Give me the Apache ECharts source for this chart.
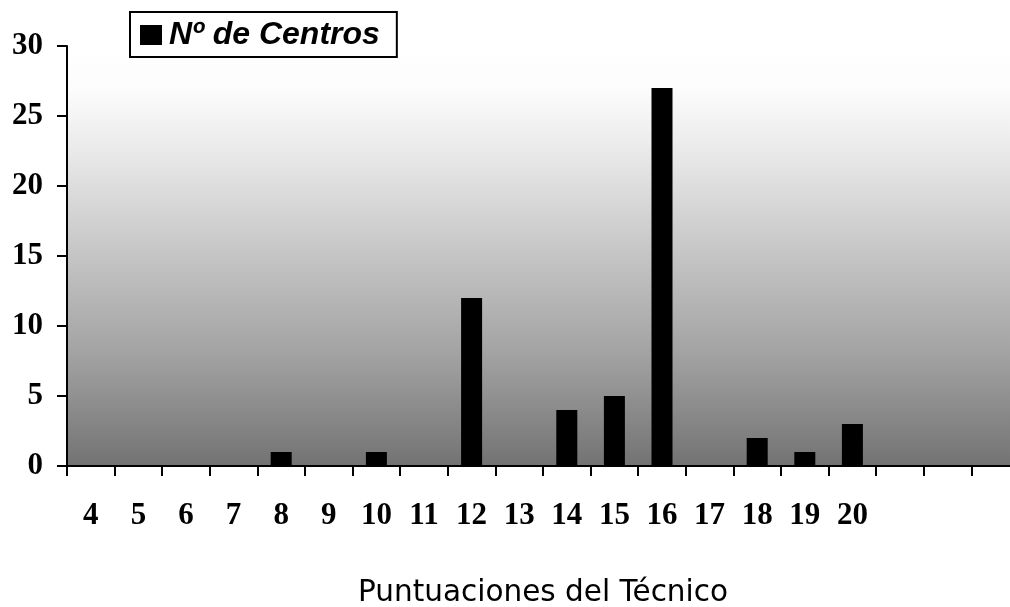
<!DOCTYPE html>
<html>
<head>
<meta charset="utf-8">
<script src="https://cdn.jsdelivr.net/npm/echarts@6/dist/echarts.min.js"></script>
<style>
  html, body { margin: 0; padding: 0; background: #ffffff; }
  #chart { width: 1010px; height: 607px; }
</style>
</head>
<body>
<div id="chart"></div>
<script>
// Puntuaciones del técnico (three trailing empty slots keep the axis running on)
const categories = ['4', '5', '6', '7', '8', '9', '10', '11', '12', '13', '14', '15', '16', '17', '18', '19', '20', '', '', ''];
// Número de centros por puntuación
const centros = [0, 0, 0, 0, 1, 0, 1, 0, 12, 0, 4, 5, 27, 0, 2, 1, 3, 0, 0, 0];
const yTicks = [0, 5, 10, 15, 20, 25, 30];
const seriesName = 'Nº de Centros';
const axisTitle = 'Puntuaciones del Técnico';

const chart = echarts.init(document.getElementById('chart'), null, { renderer: 'canvas' });

const serifBold = { fontFamily: 'Liberation Serif', fontWeight: 'bold', fontSize: 31, color: '#000' };

chart.setOption({
  animation: false,
  backgroundColor: '#ffffff',
  legend: {
    left: 130,
    top: 12,
    padding: [7, 17, 6, 10],
    backgroundColor: '#ffffff',
    borderColor: '#000',
    borderWidth: 2,
    borderRadius: 0,
    icon: 'rect',
    itemWidth: 22,
    itemHeight: 20,
    itemGap: 0,
    itemStyle: { borderWidth: 0 },
    textStyle: {
      fontFamily: 'Liberation Sans',
      fontStyle: 'italic',
      fontWeight: 'bold',
      fontSize: 32,
      color: '#000',
      padding: [0, 0, 0, 2]
    },
    data: [seriesName]
  },
  grid: {
    left: 67,
    top: 46,
    width: 952,
    bottom: 141,
    outerBoundsMode: 'none',
    containLabel: false,
    show: true,
    borderWidth: 0,
    // plot area shades from white at the top to mid grey at the base
    backgroundColor: new echarts.graphic.LinearGradient(0, 0, 0, 1, [
      { offset: 0, color: '#ffffff' },
      { offset: 0.1, color: '#fcfcfc' },
      { offset: 0.24, color: '#ebebeb' },
      { offset: 0.49, color: '#c6c6c6' },
      { offset: 0.73, color: '#a3a3a3' },
      { offset: 0.96, color: '#7a7a7a' },
      { offset: 1, color: '#727272' }
    ])
  },
  xAxis: {
    type: 'category',
    data: categories,
    boundaryGap: true,
    axisLine: { show: true, lineStyle: { color: '#000', width: 2 } },
    axisTick: { show: true, alignWithLabel: false, interval: 0, length: 10, lineStyle: { color: '#000', width: 2 } },
    axisLabel: Object.assign({ interval: 0, margin: 34 }, serifBold),
    splitLine: { show: false },
    name: axisTitle,
    nameLocation: 'middle',
    nameGap: 112,
    nameTextStyle: { fontFamily: 'DejaVu Sans', fontSize: 29.5, color: '#000' }
  },
  yAxis: {
    type: 'value',
    min: yTicks[0],
    max: yTicks[yTicks.length - 1],
    interval: yTicks[1] - yTicks[0],
    axisLine: { show: true, lineStyle: { color: '#000', width: 2 } },
    axisTick: { show: true, length: 10, lineStyle: { color: '#000', width: 2 } },
    axisLabel: Object.assign({ margin: 24 }, serifBold),
    splitLine: { show: false }
  },
  series: [{
    name: seriesName,
    type: 'bar',
    data: centros,
    barWidth: 21,
    itemStyle: { color: '#000', borderWidth: 0 }
  }]
});
</script>
</body>
</html>
